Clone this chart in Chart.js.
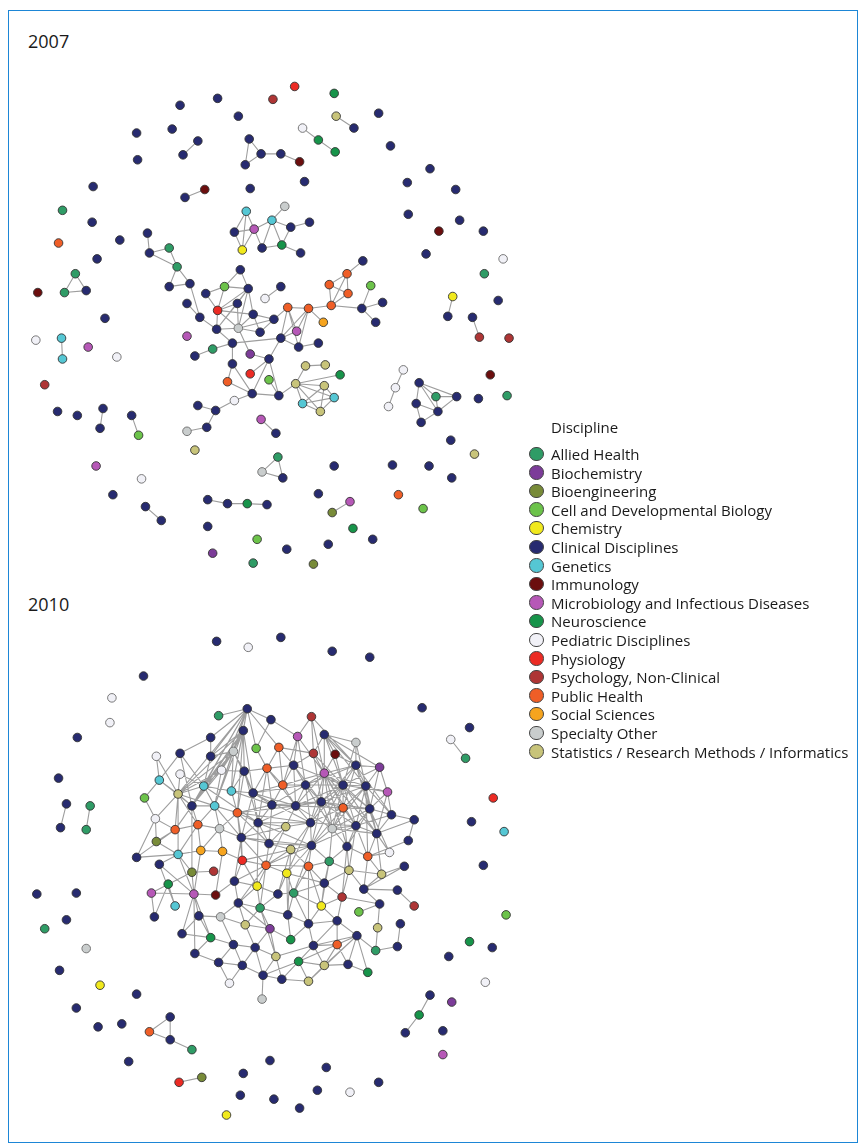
<!DOCTYPE html>
<html>
<head>
<meta charset="utf-8">
<title>Discipline networks 2007 / 2010</title>
<script src="https://cdn.jsdelivr.net/npm/chart.js@4.4.1/dist/chart.umd.min.js"></script>
<style>
  html, body { margin: 0; padding: 0; background: #fff; overflow: hidden; }
  body { width: 861px; height: 1145px; position: relative; font-family: "Open Sans", "Noto Sans", sans-serif; color: #1a1a1a; }
  #frame { position: absolute; left: 8px; top: 10px; width: 848px; height: 1131px; border: 1.5px solid #1d86d6; }
  .year { position: absolute; left: 28px; font-size: 18px; line-height: 18px; }
  #net { position: absolute; left: 0; top: 0; }
  #legend { position: absolute; left: 528px; top: 418px; font-size: 15px; }
  #legend .title { position: absolute; left: 23px; top: 0; line-height: 18.6px; white-space: nowrap; }
  #legend .item { position: absolute; left: 0; height: 18.6px; line-height: 18.6px; white-space: nowrap; }
  #legend .dot { position: absolute; left: 1px; top: 1.5px; width: 14.5px; height: 14.5px; border-radius: 50%; border: 1px solid #444; box-sizing: border-box; }
  #legend .lab { position: absolute; left: 23px; top: 0; }
</style>
</head>
<body>
<div id="frame"></div>
<div class="year" style="top:32px">2007</div>
<div class="year" style="top:595px">2010</div>
<canvas id="net" width="861" height="1145"></canvas>
<div id="legend"></div>

<script>
var categories = ['Allied Health', 'Biochemistry', 'Bioengineering', 'Cell and Developmental Biology',
    'Chemistry', 'Clinical Disciplines', 'Genetics', 'Immunology', 'Microbiology and Infectious Diseases',
    'Neuroscience', 'Pediatric Disciplines', 'Physiology', 'Psychology, Non-Clinical', 'Public Health',
    'Social Sciences', 'Specialty Other', 'Statistics / Research Methods / Informatics'];

// network layout: [x, y, category index]
var nodes2007 = [
    [177,101,5],[215,94,5],[271,95,12],[133,129,5],[169,125,5],      //0
    [236,112,5],[195,137,5],[180,151,5],[134,156,5],[247,135,5],      //5
    [259,150,5],[243,161,5],[279,150,5],[89,183,5],[202,186,7],       //10
    [182,194,5],[248,185,5],[58,207,0],[88,219,5],[54,240,13],        //15
    [116,237,5],[93,256,5],[144,230,5],[146,250,5],[166,245,0],       //20
    [174,264,0],[166,284,5],[187,281,5],[71,271,0],[60,290,0],        //25
    [82,288,5],[33,290,7],[101,316,5],[244,208,6],[270,217,6],        //30
    [252,226,8],[232,229,5],[240,247,4],[260,245,5],[280,242,9],      //35
    [238,267,5],[222,284,3],[246,286,5],[203,291,5],[263,296,10],     //40
    [235,301,5],[215,308,11],[184,301,5],[251,312,5],[279,284,5],     //45
    [293,82,11],[333,89,9],[335,112,16],[353,124,5],[378,109,5],      //50
    [301,124,10],[317,136,9],[334,148,9],[298,158,7],[303,178,5],     //55
    [390,142,5],[430,165,5],[407,179,5],[456,186,5],[408,211,5],      //60
    [460,217,5],[439,228,7],[484,228,5],[426,251,5],[504,256,10],     //65
    [485,271,0],[453,294,4],[448,314,5],[473,315,5],[499,298,5],      //70
    [283,203,15],[289,224,5],[308,219,5],[299,250,5],[362,258,5],     //75
    [346,271,13],[328,282,13],[347,291,13],[330,303,13],[370,283,3],  //80
    [361,306,5],[382,300,5],[375,320,5],[307,306,13],[286,305,13],    //85
    [272,317,5],[322,320,14],[197,315,5],[214,327,5],[236,326,15],    //90
    [258,330,5],[279,336,5],[184,334,8],[230,341,5],[210,347,0],      //95
    [192,354,5],[248,352,1],[267,357,5],[230,362,5],[248,372,11],     //100
    [267,378,3],[225,380,13],[250,392,5],[277,394,5],[232,399,10],    //105
    [195,404,5],[213,409,5],[204,426,5],[184,430,15],[259,418,8],     //110
    [274,432,5],[192,449,16],[276,456,0],[260,471,15],[281,477,5],    //115
    [205,499,5],[225,503,5],[245,503,9],[265,504,5],[205,526,5],      //120
    [255,539,3],[210,553,1],[251,563,0],[31,338,10],[57,336,6],       //125
    [58,357,6],[84,345,8],[113,355,10],[40,383,12],[53,410,5],        //130
    [73,414,5],[99,407,5],[96,427,5],[128,414,5],[135,434,3],         //135
    [92,465,8],[138,478,10],[109,494,5],[142,506,5],[158,520,5],      //140
    [295,329,8],[297,345,5],[317,341,5],[304,364,16],[324,363,16],    //145
    [339,373,9],[294,382,16],[323,384,16],[333,396,6],[301,402,6],    //150
    [319,410,16],[333,465,5],[317,493,5],[349,501,8],[331,512,2],     //155
    [352,528,9],[372,539,5],[327,544,5],[285,549,5],[312,564,2],      //160
    [403,368,10],[395,386,10],[388,405,10],[419,381,5],[436,395,0],   //165
    [457,395,5],[416,402,5],[438,410,5],[421,421,5],[480,335,12],     //170
    [510,336,12],[491,373,7],[479,397,5],[508,394,0],[451,439,5],     //175
    [475,453,16],[392,464,5],[429,465,5],[452,477,5],[398,494,13],    //180
    [423,508,3]                                                       //185
];

var links2007 = [
    [6,7],[9,10],[10,11],[9,11],[10,12],[12,58],[14,15],
    [22,23],[23,24],[23,25],[24,25],[25,26],[25,27],[26,27],[27,92],
    [28,29],[29,30],[28,30],
    [33,35],[33,36],[33,37],[35,36],[35,37],[35,34],[35,38],[34,38],[34,39],[38,39],[36,37],
    [34,75],[34,76],[76,77],[76,39],[39,78],
    [40,41],[40,42],[41,43],[41,46],[41,42],[42,46],[42,45],[42,48],[42,94],[42,93],[44,49],
    [46,45],[46,48],[46,93],[46,94],[46,43],[45,94],[45,93],[48,94],[48,95],[48,90],[94,101],
    [94,93],[94,90],[94,95],[95,90],[93,92],[93,98],[47,92],[98,96],[98,99],[99,100],[98,103],
    [101,102],[103,106],[103,107],[106,107],[107,108],[102,107],[104,102],[107,109],[109,111],
    [111,110],[111,112],[112,113],[114,115],[117,118],[118,119],[117,119],
    [120,121],[121,122],[122,123],
    [102,108],[102,96],[96,145],[96,146],[96,89],[145,89],[146,147],[146,89],[88,96],[88,146],
    [88,145],[89,88],[88,83],[83,85],[85,86],[85,87],[85,84],[83,81],[83,82],[83,80],[81,80],
    [81,82],[80,82],[80,79],[88,91],[90,89],
    [105,108],[108,151],
    [151,148],[148,149],[151,150],[151,152],[151,153],[151,154],[151,155],[152,153],[152,154],
    [152,155],[154,155],[153,155],[154,153],
    [165,166],[166,167],
    [168,169],[168,170],[168,171],[169,170],[169,172],[171,172],[171,173],[172,173],[172,170],[168,172],
    [158,159],[71,72],[73,174],[138,139],[136,137],[143,144],[129,130],[52,53],[55,56],[56,57]
];

var nodes2010 = [
    [214,642,5],[246,648,10],[279,638,5],[140,677,5],[108,699,10],    //0
    [106,724,10],[73,739,5],[54,780,5],[62,806,5],[56,830,5],         //5
    [86,808,0],[82,832,0],[331,652,5],[369,658,5],[422,709,5],        //10
    [470,729,5],[451,741,10],[466,760,0],[494,800,11],[472,824,5],    //15
    [505,834,6],[484,868,5],[507,918,3],[470,945,9],[493,951,5],      //20
    [449,960,5],[486,986,10],[430,999,5],[452,1006,1],[419,1019,9],   //25
    [405,1037,5],[443,1035,5],[443,1059,8],[268,1065,5],[325,1072,5], //30
    [272,1104,5],[298,1113,5],[316,1095,5],[349,1097,10],[378,1087,5],//35
    [32,897,5],[72,896,5],[62,923,5],[40,932,0],[82,952,15],          //40
    [55,974,5],[96,989,4],[133,998,5],[72,1012,5],[94,1031,5],        //45
    [118,1028,5],[167,1021,5],[146,1036,13],[167,1044,5],[189,1054,0],//50
    [125,1066,5],[176,1087,11],[199,1082,2],[241,1078,5],[238,1100,5],//55
    [224,1120,4],[216,717,0],[245,710,5],[269,721,5],[241,732,5],     //60
    [208,739,5],[254,750,3],[277,749,13],[153,758,10],[177,755,5],    //65
    [208,758,5],[231,753,15],[265,770,13],[242,773,5],[219,772,10],   //70
    [177,776,10],[156,782,6],[201,788,6],[229,793,6],[251,795,5],     //75
    [281,787,13],[141,800,3],[175,796,16],[189,808,5],[212,808,6],    //80
    [235,815,13],[270,807,5],[256,825,5],[152,821,10],[172,832,13],   //85
    [195,827,13],[217,831,15],[239,840,5],[267,846,5],[153,844,2],    //90
    [133,860,5],[175,857,6],[198,853,14],[220,854,14],[240,863,11],   //95
    [264,868,13],[156,867,5],[310,718,12],[296,738,8],[323,736,5],    //100
    [355,744,15],[312,755,12],[334,756,7],[292,767,5],[355,767,5],    //105
    [379,769,1],[323,775,8],[304,787,5],[342,787,5],[365,788,5],      //110
    [387,794,8],[294,808,5],[320,804,5],[342,810,13],[369,811,5],     //115
    [391,817,5],[309,825,5],[331,831,15],[355,828,5],[284,829,16],    //120
    [376,836,5],[310,848,5],[346,849,5],[289,852,16],[328,864,0],     //125
    [367,859,13],[307,869,13],[389,855,10],[404,869,5],[414,822,5],   //130
    [408,843,5],[189,875,2],[211,874,12],[165,887,9],[148,896,8],     //135
    [191,897,8],[213,898,7],[232,884,5],[255,889,4],[276,897,5],      //140
    [172,909,6],[196,919,5],[218,920,15],[236,906,5],[258,911,0],     //145
    [151,920,5],[179,937,5],[208,941,9],[243,928,16],[268,932,1],     //150
    [231,948,5],[253,951,5],[192,957,5],[216,966,5],[240,969,5],      //155
    [274,960,16],[261,979,5],[280,983,5],[227,987,10],[260,1003,15],  //160
    [285,876,4],[348,873,16],[381,877,16],[323,886,5],[363,892,5],    //165
    [397,893,5],[414,909,12],[292,896,0],[341,900,12],[320,909,4],    //170
    [358,915,3],[379,907,5],[286,918,5],[307,927,5],[336,924,5],      //175
    [377,931,16],[400,927,5],[289,943,9],[356,939,5],[312,949,5],     //180
    [336,948,13],[375,954,0],[397,950,5],[297,965,9],[323,969,16],    //185
    [347,968,5],[367,976,9],[307,985,16]                              //190
];

var links2010 = [
    [8,9],[10,11],[16,17],[27,29],[29,30],[51,52],[52,53],[51,53],[53,54],[56,57],
    [61,62],[62,64],[62,63],[62,71],[62,70],[62,65],[62,82],[62,77],[62,74],
    [64,71],[64,82],[64,77],[64,84],[64,79],[64,73],[64,83],[64,74],
    [68,76],[76,81],[68,82],[75,82],[82,83],[82,88],[82,76],[82,71],[82,74],[82,96],
    [69,83],[83,77],[83,84],[83,89],[83,136],
    [77,71],[77,78],[77,84],[77,87],
    [78,79],[78,73],[78,85],[78,86],
    [79,86],[79,72],[79,73],[79,87],[79,92],[79,112],[79,111],
    [84,85],[84,91],[84,90],[84,92],
    [85,86],[85,92],[85,87],[85,116],
    [88,94],[88,81],[89,90],[89,95],[90,91],[90,97],[91,92],[91,98],
    [92,93],[92,99],[92,100],[92,124],
    [94,96],[95,96],[96,97],[97,98],[98,99],[99,100],[101,96],
    [65,70],[65,69],[66,62],[66,72],[66,63],[67,72],[67,62],[67,80],[67,108],
    [72,73],[72,86],[72,80],[73,74],[73,71],[74,71],[74,77],[70,71],[70,77],[71,79],
    [62,84],[62,78],[62,83],[64,78],[64,85],[64,70],[71,84],[71,78],[71,83],[74,83],[74,84],
    [82,77],[82,84],[82,90],[82,89],[69,76],[69,77],[75,77],[76,83],[81,88],[88,89],[88,95],
    [89,94],[90,96],[90,83],[91,85],[91,97],[85,99],[85,93],[86,87],[86,93],[87,92],[87,93],
    [73,85],[73,87],[72,87],[72,116],[80,116],[80,86],[79,116],[79,121],[85,121],[87,124],
    [92,126],[93,128],[100,131],[98,141],[97,140],[96,140],
    [63,103],[102,106],[102,111],[102,103],[104,105],[104,106],[104,111],[104,107],[104,110],
    [103,108],[103,112],[106,108],[106,111],[106,67],[107,111],[108,80],[108,72],[108,112],[73,108],
    [109,111],[109,110],[109,113],[109,114],[109,117],[109,119],[109,118],[109,112],[105,109],
    [110,115],[111,112],[111,113],[111,117],[111,118],[111,116],[111,121],[111,122],[111,123],[111,114],
    [112,116],[112,121],[112,113],[112,80],
    [113,114],[113,117],[113,118],[113,119],[113,122],[113,123],[113,125],
    [114,115],[114,119],[114,120],[114,123],[114,125],[114,118],
    [115,120],[115,119],[116,121],[116,124],[116,117],[116,86],
    [117,118],[117,121],[117,122],[117,126],
    [118,119],[118,122],[118,123],[118,127],
    [119,120],[119,125],[119,123],[120,125],[120,134],
    [121,124],[121,126],[121,128],[122,123],[122,126],[122,127],
    [123,125],[123,127],[123,130],[125,130],[125,132],
    [126,128],[126,129],[126,131],[127,129],[127,130],
    [128,131],[128,100],[128,93],[129,131],[129,166],[130,132],[130,167],
    [134,135],[134,125],[135,130],[133,169],[133,167],
    [105,113],[105,114],[109,120],[109,125],[111,119],[111,125],[111,127],[113,116],[113,121],
    [113,126],[114,117],[114,122],[117,123],[117,119],[118,121],[118,126],[119,122],[119,127],
    [121,123],[122,125],[123,126],[104,109],[104,113],[104,114],[106,113],[106,117],[107,109],
    [107,113],[110,114],[110,119],[110,113],[115,125],[115,113],[116,118],[116,122],[112,117],
    [112,122],[108,116],[108,117],[108,113],[103,111],[102,109],[120,123],[119,132],[114,130],
    [80,111],[80,103],[86,112],[86,117],[87,116],[87,121],[87,126],[93,124],[99,128],[100,126],[93,126],
    [136,137],[136,138],[136,140],[136,96],[138,139],[138,145],[139,140],[139,150],
    [140,141],[140,146],[140,152],[140,97],[141,142],[141,98],
    [142,143],[142,148],[142,99],[142,100],[143,144],[143,148],[143,149],[144,149],[144,165],
    [145,138],[146,147],[146,152],[146,151],[147,148],[147,155],[147,153],[148,149],[148,153],[148,154],
    [149,153],[149,154],[149,160],[150,138],[151,140],[151,152],[152,155],[152,157],[157,140],
    [153,156],[153,154],[154,156],[154,160],[155,158],[155,159],[155,156],[156,159],[156,161],[156,160],
    [157,158],[158,159],[158,163],[159,161],[159,163],[160,161],[160,162],[161,162],[161,164],[163,156],
    [165,172],[165,168],[165,100],[166,167],[166,168],[166,169],[167,169],[168,173],[168,174],[168,172],
    [169,176],[169,170],[170,171],[172,177],[172,178],[172,174],[173,174],[173,179],[173,176],
    [174,178],[174,179],[175,176],[176,180],[177,178],[177,182],[178,179],[178,184],[178,182],
    [179,183],[179,184],[179,185],[180,186],[181,187],[183,185],[183,190],[183,186],[183,191],
    [183,189],[183,188],[183,192],[183,184],
    [184,185],[184,189],[184,188],[185,190],[185,189],[186,187],[188,189],[188,192],[189,190],
    [189,192],[190,191],[192,162],
    [101,145],[101,140],[87,143],[92,142],[99,143],[100,148],[93,149],[128,144],[124,143],
    [126,165],[131,168],[131,172],[129,168],[127,173],[130,169],[125,167],[123,166],[122,129],
    [126,172],[121,165],[128,177],[131,174],[129,174],[127,166],[131,178],[144,172],[149,177],
    [154,182],[160,184],[162,188],[161,188],[165,177],[166,173]
];

// colours per discipline (same order as categories)
var catColors = ['#2f9c66', '#7c3c99', '#788b38', '#6cc34a', '#f1e91d', '#272b70', '#55c7d4',
    '#6b0e0e', '#b658b7', '#17944a', '#f1f1f7', '#ec2b24', '#ae3535', '#ef5e27', '#f6a41e',
    '#c9cdcd', '#c8c47a'];

function linkPoints(nodes, links) {
    var pts = [];
    links.forEach(function (l) {
        var a = nodes[l[0]], b = nodes[l[1]];
        pts.push({x: a[0], y: a[1]}, {x: b[0], y: b[1]}, {x: NaN, y: NaN});
    });
    return pts;
}

var datasets = [];
[[nodes2007, links2007], [nodes2010, links2010]].forEach(function (p) {
    datasets.push({
        label: 'links',
        data: linkPoints(p[0], p[1]),
        showLine: true,
        spanGaps: false,
        borderColor: '#9e9e9e',
        borderWidth: 1.1,
        pointRadius: 0,
        order: 2
    });
});

categories.forEach(function (name, c) {
    var pts = [];
    [nodes2007, nodes2010].forEach(function (nodes) {
        nodes.forEach(function (n) {
            if (n[2] === c) pts.push({x: n[0], y: n[1]});
        });
    });
    datasets.push({
        label: name,
        data: pts,
        pointRadius: 4.3,
        pointBackgroundColor: catColors[c],
        pointBorderColor: c === 10 || c === 15 ? '#6b6b6b' : '#333',
        pointBorderWidth: 0.9,
        order: 1
    });
});

var ctx = document.getElementById('net').getContext('2d');
var chart = new Chart(ctx, {
    type: 'scatter',
    data: { datasets: datasets },
    options: {
        responsive: false,
        animation: false,
        events: [],
        layout: { padding: 0 },
        scales: {
            x: { type: 'linear', min: 0, max: 861, display: false },
            y: { type: 'linear', min: 0, max: 1145, reverse: true, display: false }
        },
        plugins: { legend: { display: false }, tooltip: { enabled: false } }
    }
});

// legend
var leg = document.getElementById('legend');
var t = document.createElement('div');
t.className = 'title';
t.textContent = 'Discipline';
leg.appendChild(t);
categories.forEach(function (name, i) {
    var row = document.createElement('div');
    row.className = 'item';
    row.style.top = (27 + i * 18.6) + 'px';
    var dot = document.createElement('span');
    dot.className = 'dot';
    dot.style.background = catColors[i];
    var lab = document.createElement('span');
    lab.className = 'lab';
    lab.textContent = name;
    row.appendChild(dot);
    row.appendChild(lab);
    leg.appendChild(row);
});
</script>
</body>
</html>
